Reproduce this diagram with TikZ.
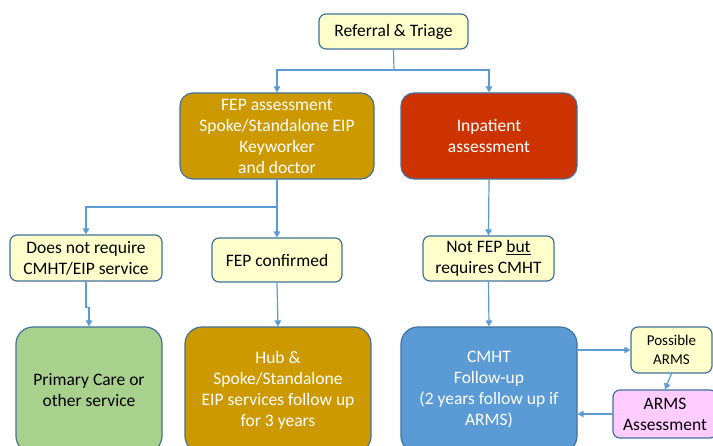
\documentclass[tikz,border=0pt]{standalone}
\usepackage{fontspec}
\setmainfont{Carlito}
\usetikzlibrary{arrows.meta,calc}
\definecolor{boxline}{HTML}{41719C}
\definecolor{connblue}{HTML}{5B9BD5}
\definecolor{paleyellow}{HTML}{FFFFCC}
\definecolor{gold}{HTML}{CC9900}
\definecolor{brick}{HTML}{CC3300}
\definecolor{sage}{HTML}{A9D18E}
\definecolor{steel}{HTML}{5B9BD5}
\definecolor{pinkish}{HTML}{FFCCFF}
\tikzset{
  box/.style={draw=boxline, line width=1.2pt, align=center, inner sep=0pt,
    font=\fontsize{17.5}{21}\selectfont},
  note/.style={box, fill=paleyellow, rounded corners=7pt, text=black},
  stage/.style={box, rounded corners=13pt, text=white},
  outcome/.style={box, rounded corners=17pt},
  conn/.style={draw=connblue, line width=1.2pt},
  arr/.style={conn, -{Triangle[width=6.5pt,length=6pt]}}
}
\begin{document}
\begin{tikzpicture}[x=1pt,y=-1pt]
\useasboundingbox (0,0) rectangle (713,446);
\clip (0,0) rectangle (713,446);
\fill[white] (0,0) rectangle (713,446);

% top row
\node[note, minimum width=149pt, minimum height=35pt] (ref) at (393.5,31.5) {Referral \& Triage};

% assessments
\node[stage, fill=gold, minimum width=194pt, minimum height=86pt] (fep) at (277,136)
  {FEP assessment\\Spoke/Standalone EIP\\Keyworker\\and doctor};
\node[stage, fill=brick, minimum width=176pt, minimum height=86pt] (inp) at (489,136)
  {Inpatient\\assessment};

% decisions
\node[note, minimum width=152pt, minimum height=46pt] (dnr) at (86,258)
  {Does not require\\CMHT/EIP service};
\node[note, minimum width=130pt, minimum height=44pt] (fepc) at (277,260) {FEP confirmed};
\node[note, minimum width=131pt, minimum height=45pt] (nfep) at (488.5,258.5)
  {Not FEP \underline{but}\\requires CMHT};

% outcomes
\node[outcome, fill=sage, minimum width=146pt, minimum height=126pt] (pc) at (89,390)
  {Primary Care or\\other service};
\node[outcome, fill=gold, text=white, minimum width=186pt, minimum height=126pt] (hub) at (278,390)
  {Hub \&\\Spoke/Standalone\\EIP services follow up\\for 3 years};
\node[outcome, fill=steel, text=white, minimum width=176pt, minimum height=126pt] (cmht) at (489,390)
  {CMHT\\Follow-up\\(2 years follow up if\\ARMS)};

% ARMS pathway
\node[note, font=\fontsize{15}{19}\selectfont, minimum width=81pt, minimum height=46pt] (pos) at (671.5,350)
  {Possible\\ARMS};
\node[box, fill=pinkish, rounded corners=7pt, minimum width=104pt, minimum height=48pt] (arms) at (665,414)
  {ARMS\\Assessment};

% connectors
\coordinate (j1) at (394,70);
\coordinate (j2) at (277,207);
\draw[conn] (ref.south) -- (j1);
\draw[arr] (j1) -| (fep.north);
\draw[arr] (j1) -| (inp.north);
\draw[conn] (fep.south) -- (j2);
\draw[arr] (j2) -| (dnr.north);
\draw[arr] (j2) -- (fepc.north);
\draw[arr] (inp.south) -- (nfep.north);
\draw[arr] (dnr.south) -- ++(0,26) -| (pc.north);
\draw[arr] (fepc.south) -- (hub.north);
\draw[arr] (nfep.south) -- (cmht.north);
\draw[arr] (cmht.east |- pos.west) -- (pos.west);
\draw[arr] (pos.south) -- (arms.north);
\draw[arr] (arms.west) -- (cmht.east |- arms.west);
\end{tikzpicture}
\end{document}
